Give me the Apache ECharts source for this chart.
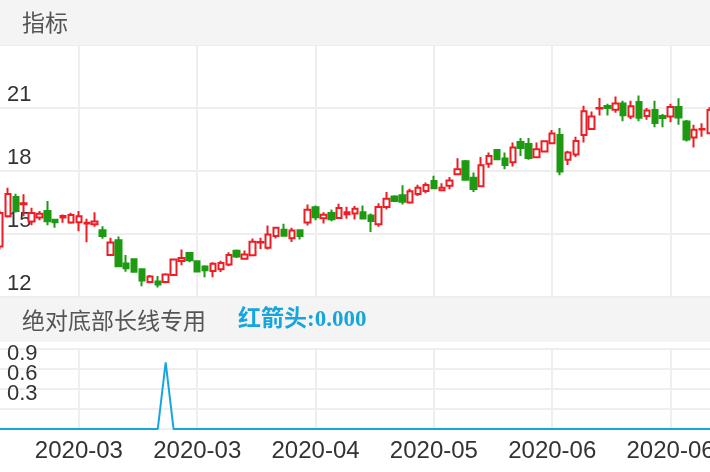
<!DOCTYPE html>
<html><head><meta charset="utf-8">
<script src="https://cdn.jsdelivr.net/npm/echarts@6/dist/echarts.min.js"></script>
<style>html,body{margin:0;padding:0;background:#fff}#c{width:710px;height:472px}</style>
</head><body><div id="c"></div>
<script>
const dates = [
'2020-02-20','2020-02-21','2020-02-24','2020-02-25','2020-02-26','2020-02-27','2020-02-28','2020-03-02','2020-03-03','2020-03-04',
'2020-03-05','2020-03-06','2020-03-09','2020-03-10','2020-03-11','2020-03-12','2020-03-13','2020-03-16','2020-03-17','2020-03-18',
'2020-03-19','2020-03-20','2020-03-23','2020-03-24','2020-03-25','2020-03-26','2020-03-27','2020-03-30','2020-03-31','2020-04-01',
'2020-04-02','2020-04-03','2020-04-07','2020-04-08','2020-04-09','2020-04-10','2020-04-13','2020-04-14','2020-04-15','2020-04-16',
'2020-04-17','2020-04-20','2020-04-21','2020-04-22','2020-04-23','2020-04-24','2020-04-27','2020-04-28','2020-04-29','2020-04-30',
'2020-05-06','2020-05-07','2020-05-08','2020-05-11','2020-05-12','2020-05-13','2020-05-14','2020-05-15','2020-05-18','2020-05-19',
'2020-05-20','2020-05-21','2020-05-22','2020-05-25','2020-05-26','2020-05-27','2020-05-28','2020-05-29','2020-06-01','2020-06-02',
'2020-06-03','2020-06-04','2020-06-05','2020-06-08','2020-06-09','2020-06-10','2020-06-11','2020-06-12','2020-06-15','2020-06-16',
'2020-06-17','2020-06-18','2020-06-19','2020-06-22','2020-06-23','2020-06-24','2020-06-29','2020-06-30','2020-07-01','2020-07-02',
'2020-07-03'];

const openVals = [
14.4,15.85,16.76,16.42,15.6,15.78,16.09,15.68,15.78,15.55,
15.56,15.5,15.46,15.18,14.0,14.7,13.6,13.8,13.32,12.72,
12.74,12.72,13.05,13.72,14.1,13.7,13.45,13.24,13.32,13.55,
14.2,13.82,13.99,14.59,14.35,14.9,15.2,14.8,15.18,15.55,
16.27,15.75,16.0,15.76,15.94,15.98,16.04,15.88,15.46,16.28,
16.78,16.84,16.5,16.9,17.05,17.52,17.08,17.3,17.85,18.47,
17.68,17.27,18.34,19.0,18.6,18.42,19.38,19.28,18.66,18.93,
19.32,19.72,18.53,18.78,19.72,20.0,20.98,21.1,20.92,21.22,
20.6,21.28,20.62,20.91,20.62,20.6,21.05,20.36,19.6,19.98,
19.8];

const closeVals = [
16.0,16.9,16.09,16.46,16.0,15.97,15.61,15.56,15.86,15.9,
15.85,15.54,15.6,14.9,14.6,13.46,13.37,13.2,12.78,12.98,
12.6,13.07,13.78,13.86,13.75,13.22,13.27,13.58,13.62,14.0,
13.93,14.02,14.63,14.62,14.98,15.3,14.92,15.17,14.9,16.15,
15.8,15.92,15.7,16.24,16.03,16.2,15.74,15.62,16.28,16.68,
16.57,16.53,17.04,17.2,17.33,17.18,17.2,17.55,18.08,17.58,
17.14,18.27,18.72,18.56,18.29,19.12,19.1,18.62,19.04,19.42,
19.78,17.98,18.88,19.43,20.85,20.6,21.0,21.0,21.22,20.65,
21.08,20.53,20.88,20.28,20.52,21.05,20.55,19.5,19.97,20.0,
20.9];

const lowVals = [
14.26,15.78,16.02,15.85,15.42,15.66,15.42,15.3,15.54,15.49,
15.13,14.61,15.34,14.77,13.97,13.43,13.2,13.18,12.51,12.65,
12.45,12.65,13.0,13.51,13.65,13.19,12.94,12.94,13.19,13.46,
13.86,13.78,13.94,14.29,14.26,14.78,14.9,14.62,14.74,15.41,
15.66,15.5,15.61,15.73,15.73,15.69,15.73,15.09,15.34,16.17,
16.52,16.41,16.44,16.81,16.94,17.13,17.05,17.13,17.81,17.53,
17.0,17.24,18.16,18.53,18.08,18.21,18.72,18.53,18.61,18.91,
19.28,17.8,18.29,18.67,19.36,19.97,20.64,20.64,20.77,20.37,
20.48,20.37,20.44,20.08,20.08,20.32,20.2,19.4,19.12,19.63,
19.76];

const highVals = [
16.12,17.2,16.92,16.89,16.25,16.09,16.57,15.7,15.93,16.01,
16.09,15.73,16.04,15.37,14.82,14.88,14.0,13.84,13.36,13.05,
13.0,13.13,13.83,14.26,14.13,13.73,13.51,13.65,13.73,14.13,
14.26,14.21,14.78,14.82,15.41,15.34,15.49,15.3,15.22,16.41,
16.36,16.04,16.17,16.44,16.3,16.33,16.36,15.98,16.46,17.0,
16.84,17.32,17.16,17.35,17.45,17.77,17.42,17.72,18.61,18.52,
17.93,18.67,18.88,19.04,18.88,19.36,19.57,19.57,19.36,19.44,
19.95,20.05,18.96,19.63,21.11,20.83,21.48,21.2,21.55,21.35,
21.35,21.59,21.0,21.35,20.72,21.2,21.47,20.43,20.2,20.27,
21.04];

const arrowVals = [
0,0,0,0,0,0,0,0,0,0,
0,0,0,0,0,0,0,0,0,0,
0,1,0,0,0,0,0,0,0,0,
0,0,0,0,0,0,0,0,0,0,
0,0,0,0,0,0,0,0,0,0,
0,0,0,0,0,0,0,0,0,0,
0,0,0,0,0,0,0,0,0,0,
0,0,0,0,0,0,0,0,0,0,
0,0,0,0,0,0,0,0,0,0,
0];

const mainTitle = '指标';
const subTitle = '绝对底部长线专用';
const subValue = '红箭头:0.000';

const kData = dates.map((d, i) => [openVals[i], closeVals[i], lowVals[i], highVals[i]]);
const labelEvery = (i) => i % 15 === 10;
const gridLine = { show: true, interval: labelEvery, lineStyle: { color: '#eeeeee', width: 2 } };
const RED = '#ee1c24', GREEN = '#1d9a12', BLUE = '#16a6df';
const numFont = 'Liberation Sans, Arial, sans-serif';

const chart = echarts.init(document.getElementById('c'), null, { renderer: 'canvas' });
chart.setOption({
  animation: false,
  backgroundColor: '#ffffff',
  grid: [
    { left: 0, right: 0, top: 45, height: 252, outerBoundsMode: 'none', containLabel: false },
    { left: 0, right: 0, top: 349, height: 80, outerBoundsMode: 'none', containLabel: false }
  ],
  xAxis: [
    { type: 'category', gridIndex: 0, data: dates, boundaryGap: false,
      axisLine: { show: false }, axisTick: { show: false },
      axisLabel: { show: false, interval: labelEvery }, splitLine: gridLine },
    { type: 'category', gridIndex: 1, data: dates, boundaryGap: false,
      axisLine: { show: false }, axisTick: { show: false },
      axisLabel: { interval: labelEvery, formatter: v => v.slice(0, 7), color: '#333', fontSize: 24,
                   fontFamily: numFont, margin: 10, hideOverlap: false },
      splitLine: gridLine }
  ],
  yAxis: [
    { type: 'value', gridIndex: 0, min: 12, max: 24, interval: 3,
      axisLine: { show: false }, axisTick: { show: false },
      axisLabel: { inside: true, showMaxLabel: false, verticalAlign: 'bottom', padding: [0, 0, 2, 0],
                   margin: 7, color: '#333', fontSize: 22, fontFamily: numFont },
      splitLine: { lineStyle: { color: '#eeeeee', width: 2 } } },
    { type: 'value', gridIndex: 1, min: 0, max: 1.2, interval: 0.3,
      axisLine: { show: false }, axisTick: { show: false },
      axisLabel: { inside: true, showMaxLabel: false, showMinLabel: false, verticalAlign: 'bottom', padding: [0, 0, 4, 0],
                   margin: 7, color: '#333', fontSize: 22, fontFamily: numFont },
      splitLine: { lineStyle: { color: '#eeeeee', width: 2 } } }
  ],
  series: [
    { type: 'candlestick', xAxisIndex: 0, yAxisIndex: 0, data: kData, barWidth: 6,
      itemStyle: { color: '#ffffff', color0: GREEN, borderColor: RED, borderColor0: GREEN,
                   borderColorDoji: RED, borderWidth: 2 } },
    { type: 'line', xAxisIndex: 1, yAxisIndex: 1, data: arrowVals, symbol: 'none',
      lineStyle: { color: BLUE, width: 2 } }
  ],
  graphic: [
    { type: 'rect', z: 100, shape: { x: 0, y: 0, width: 710, height: 45 }, style: { fill: '#f4f4f4' } },
    { type: 'text', z: 101, x: 22, y: 22, style: { text: mainTitle, fill: '#555', fontSize: 23,
      fontFamily: 'Noto Sans CJK SC', verticalAlign: 'middle' } },
    { type: 'rect', z: 100, shape: { x: 0, y: 298, width: 710, height: 44 }, style: { fill: '#f4f4f4' } },
    { type: 'text', z: 101, x: 22, y: 320, style: { text: subTitle, fill: '#555', fontSize: 23,
      fontFamily: 'Noto Sans CJK SC', verticalAlign: 'middle' } },
    { type: 'text', z: 101, x: 238, y: 320, style: { text: subValue, fill: BLUE, fontSize: 23, fontWeight: 'bold',
      fontFamily: '"Liberation Serif", "Noto Sans CJK SC", serif', verticalAlign: 'middle' } }
  ]
});
</script>
</body></html>
